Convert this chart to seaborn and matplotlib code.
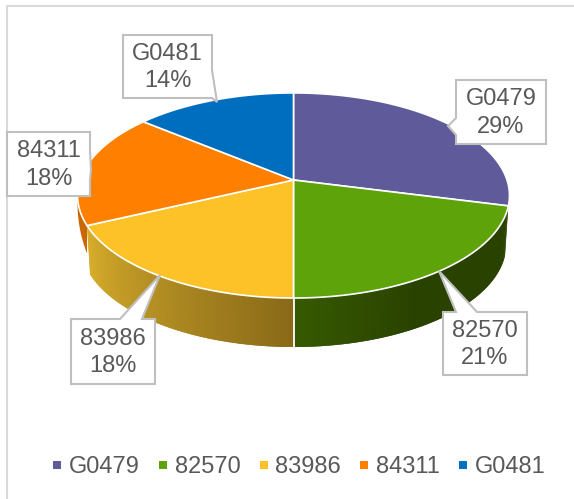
import numpy as np
import seaborn as sns
import matplotlib.pyplot as plt
from matplotlib.lines import Line2D

# valores
codigos = ['G0479', '82570', '83986', '84311', 'G0481']
percentuais = [29, 21, 18, 18, 14]

cores = ['#5F5B9A', '#5FA30A', '#FDC228', '#FF8000', '#006EBE']
cinza_texto = '#595959'
cinza_caixa = '#BFBFBF'

sns.set_theme(style='white')
plt.rcParams['font.family'] = ['Liberation Sans', 'DejaVu Sans']
paleta = sns.color_palette(cores)

fig = plt.figure(figsize=(5.74, 4.99), dpi=100, facecolor='white')
ax = fig.add_axes([0, 0, 1, 1])
ax.set_xlim(0, 574)
ax.set_ylim(499, 0)
ax.axis('off')

# moldura do grafico
ax.plot([7, 7, 574], [499, 6, 6], color='#D9D9D9', lw=1.5, zorder=1)

# projecao em perspectiva do disco
cx, cy = 293.5, 180
k = 0.151
a, b = 100.2, 213.5
altura = 49


def projeta(ang, desce=0.0, escala=1.0):
    sx, sy = np.sin(ang), np.cos(ang)
    d = 1 + k * sy
    return cx + escala * b * sx / d, cy + desce - a * sy / d


limites = 2 * np.pi * np.cumsum([0] + percentuais) / sum(percentuais)

# pedacinho laranja na lateral, afinando ate sumir
ts = np.linspace(limites[3], np.radians(268), 30)
x1, y1 = projeta(ts)
x2, y2 = projeta(ts, np.linspace(28, 0, 30), 1.0)
ax.fill(np.r_[x1, x2[::-1]], np.r_[y1, y2[::-1]], color='#CC6600', lw=0, zorder=2)

# faces laterais: degrade ao longo do arco
laterais = [(2, '#8A6A18', '#D8AE2C', 0.0), (1, '#2A4200', '#365A00', np.radians(150))]
for i, c0, c1, giro in laterais:
    t0, t1 = limites[i], limites[i + 1]
    ts = np.linspace(t0, t1, 90)
    ini, fin = np.array(sns.color_palette([c0, c1]))
    if i == 1:
        mistura = np.clip((ts - giro) / (t1 - giro), 0, 1)
    else:
        mistura = (ts - t0) / (t1 - t0)
    for j in range(len(ts) - 1):
        # cada tira invade a seguinte para nao aparecer emenda
        x1, y1 = projeta(ts[j:j + 3])
        x2, y2 = projeta(ts[j:j + 3], altura, 0.985)
        cor = ini + (fin - ini) * mistura[j]
        ax.fill(np.r_[x1, x2[::-1]], np.r_[y1, y2[::-1]], color=cor, lw=0, zorder=2)

# separador branco entre as faces laterais
x1, y1 = projeta(limites[2])
x2, y2 = projeta(limites[2], altura, 0.985)
ax.plot([x1, x2], [y1, y2], color='white', lw=1.3, zorder=3)

# fatias de cima
for i, cor in enumerate(paleta):
    ts = np.linspace(limites[i], limites[i + 1], 120)
    x, y = projeta(ts)
    ax.fill(np.r_[cx, x], np.r_[cy, y], facecolor=cor, edgecolor='white', lw=1.2,
            joinstyle='round', zorder=4)

# caixas de rotulo: x0, x1, y0, y1 e a ponta
caixas = [
    (456, 546, 80, 144, [(456, 135), (448, 126), (456, 118)]),
    (443, 527, 312, 375, [(456, 312), (439, 271), (477, 312)]),
    (71, 155, 319, 384, [(120, 319), (160, 275), (142, 319)]),
    (7, 90, 132, 196, [(90, 150), (91, 170), (90, 180)]),
    (123, 212, 35, 98, [(212, 70), (217, 102), (212, 98)]),
]
for (x0, x1, y0, y1, ponta), cod, pct in zip(caixas, codigos, percentuais):
    # o contorno passa pela ponta, no lado onde ela sai
    cantos = [(x0, y0), (x1, y0), (x1, y1), (x0, y1)]
    if ponta[0][1] == y0:
        pts = [cantos[0]] + ponta + cantos[1:]
    elif ponta[0][0] == x1:
        pts = cantos[:2] + ponta + cantos[2:]
    else:
        pts = cantos + ponta
    px, py = zip(*pts)
    ax.fill(px, py, facecolor='white', edgecolor=cinza_caixa, lw=1.5, joinstyle='miter', zorder=5)
    ax.text((x0 + x1) / 2, (y0 + y1) / 2 + 1, f'{cod}\n{pct}%', ha='center', va='center',
            fontsize=17, color=cinza_texto, linespacing=1.32, zorder=6)

# legenda
alcas = [Line2D([], [], ls='none', marker='s', markersize=5.4, markeredgewidth=0, color=c, label=n)
         for c, n in zip(paleta, codigos)]
leg = ax.legend(handles=alcas, ncol=5, loc='center', bbox_to_anchor=(299 / 574, 1 - 467 / 499),
                frameon=False, fontsize=17, handlelength=0.4, handletextpad=0.3,
                columnspacing=0.78, borderpad=0, labelcolor=cinza_texto)

fig.savefig('out.png', dpi=100, facecolor='white')
